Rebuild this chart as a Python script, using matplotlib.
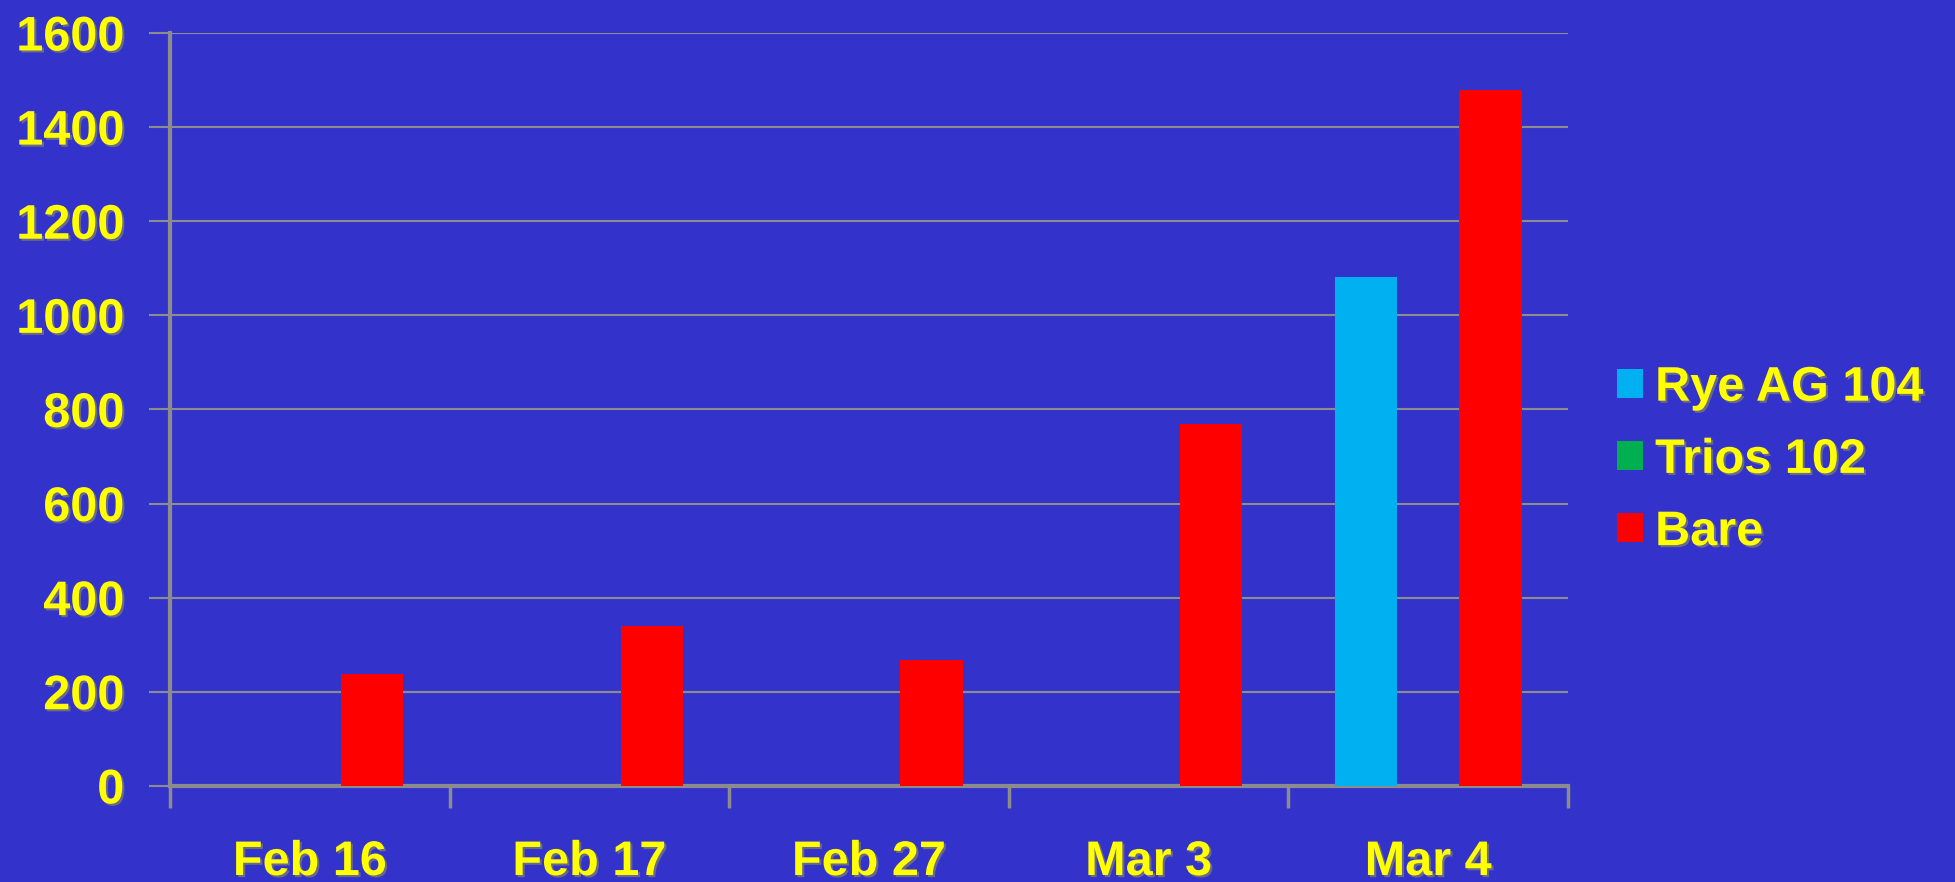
import matplotlib
matplotlib.use("Agg")
import matplotlib.pyplot as plt
import matplotlib.patheffects as pe
import numpy as np

categories = ["Feb 16", "Feb 17", "Feb 27", "Mar 3", "Mar 4"]
series_names = ["Rye AG 104", "Trios 102", "Bare"]
rye = [0, 0, 0, 0, 1082]
trios = [0, 0, 0, 0, 0]
bare = [238, 339, 267, 768, 1479]
yticks = [0, 200, 400, 600, 800, 1000, 1200, 1400, 1600]

bg = "#3333CC"
colors = ["#00B0F0", "#00B050", "#FF0000"]
grid_c = "#8C8C8C"
txt_c = "#FFFF00"
FS = 35

plt.rcParams['font.family'] = ['Liberation Sans', 'DejaVu Sans']
shadow = [pe.withSimplePatchShadow(offset=(1.5, -1.5), shadow_rgbFace="#777777", alpha=0.8)]

fig = plt.figure(figsize=(19.55, 8.82), dpi=100, facecolor=bg)
ax = fig.add_axes([0.087, 0.109, 0.715, 0.8536])
ax.set_facecolor(bg)

x = np.arange(len(categories))
w = 0.223
for i, (vals, name) in enumerate(zip([rye, trios, bare], series_names)):
    ax.bar(x + (i - 1) * w, vals, w, color=colors[i], label=name, zorder=3)

ax.set_xlim(-0.5, len(categories) - 0.5)
ax.set_ylim(0, 1600)
ax.set_yticks(yticks)
ax.set_yticklabels([str(v) for v in yticks])
ax.yaxis.grid(True, color=grid_c, linewidth=1.5, zorder=0)
ax.set_axisbelow(True)

ax.set_xticks(np.arange(-0.5, len(categories), 1.0))
ax.set_xticklabels([])
ax.set_xticks(x, minor=True)
ax.set_xticklabels(categories, minor=True)
ax.tick_params(axis='x', which='major', length=16, width=2.5, color=grid_c, direction='out')
ax.tick_params(axis='x', which='minor', length=0, pad=39)
ax.tick_params(axis='y', length=15, width=1.5, color=grid_c, pad=18)

for lab in ax.get_yticklabels() + ax.get_xticklabels(minor=True):
    lab.set_fontsize(FS)
    lab.set_fontweight('bold')
    lab.set_color(txt_c)
    lab.set_path_effects(shadow)

for s in ['top', 'right']:
    ax.spines[s].set_visible(False)
ax.spines['left'].set_color(grid_c)
ax.spines['left'].set_linewidth(3)
ax.spines['bottom'].set_color(grid_c)
ax.spines['bottom'].set_linewidth(3)

leg = fig.legend(loc='center left', bbox_to_anchor=(0.817, 0.478), frameon=False,
                 prop={'size': FS, 'weight': 'bold'}, handlelength=0.54, handleheight=0.54,
                 handletextpad=0.25, labelspacing=0.56, borderaxespad=0)
for t in leg.get_texts():
    t.set_color(txt_c)
    t.set_path_effects(shadow)

fig.savefig("out.png", dpi=100, facecolor=bg)
